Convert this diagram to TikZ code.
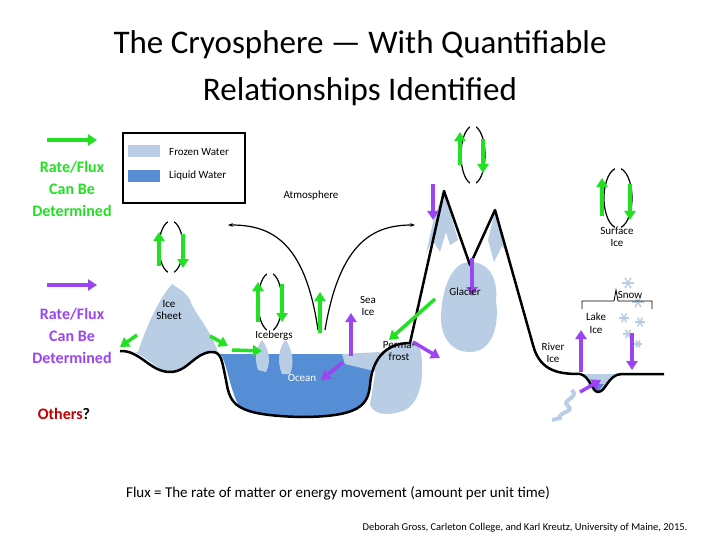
\documentclass[tikz,border=0pt]{standalone}
\usepackage{fontspec}
\setmainfont{Carlito}
\usetikzlibrary{arrows.meta}
\definecolor{frozen}{HTML}{B9CDE5}
\definecolor{liquid}{HTML}{558ED5}
\definecolor{gr}{HTML}{22E022}
\definecolor{pu}{HTML}{9B45F0}
\definecolor{rd}{HTML}{C00000}
\tikzset{
 ga/.style={draw=gr,line width=3.5pt,-{Triangle[length=9pt,width=11pt]}},
 pa/.style={draw=pu,line width=3.5pt,-{Triangle[length=9pt,width=11pt]}},
 lbl/.style={font=\fontsize{11}{12.5}\selectfont,align=center,inner sep=0pt},
 loop/.style={draw=black,line width=1.2pt},
 ground/.style={draw=black,line width=2.5pt,line join=round},
}
\begin{document}
\begin{tikzpicture}[x=1pt,y=-1pt]
\useasboundingbox (0,0) rectangle (720,540);
\node (t1) at (360,45) {\fontsize{33}{34}\selectfont The Cryosphere — With Quantifiable};
\node (t2) at (360,92) {\fontsize{33}{34}\selectfont Relationships Identified};
% left legend
\coordinate (g1) at (47,140); \coordinate (g2) at (97,140);
\draw[ga] (g1) -- (g2);
\node[align=center,text=gr,font=\fontsize{16}{22}\selectfont\bfseries] (gt) at (72,189) {Rate/Flux\\Can Be\\Determined};
\coordinate (p1) at (47,285); \coordinate (p2) at (97,285);
\draw[pa] (p1) -- (p2);
\node[align=center,text=pu,font=\fontsize{16}{22}\selectfont\bfseries] (pt) at (72,336) {Rate/Flux\\Can Be\\Determined};
\node[font=\fontsize{16}{18}\selectfont\bfseries] (oth) at (64,414) {\textcolor{rd}{Others}?};
% legend box
\draw[line width=1.2pt] (123,133) rectangle (245,203);
\fill[frozen] (128,145) rectangle (160,157);
\fill[liquid] (128,170) rectangle (160,182);
\node[lbl,anchor=west] (lf) at (169,152) {Frozen Water};
\node[lbl,anchor=west] (ll) at (169,176) {Liquid Water};
% ocean
\fill[liquid] (220,354) -- (378,354) .. controls (372,370) and (372,380) .. (368,398) .. controls (360,412) and (330,417) .. (300,417) .. controls (260,417) and (240,412) .. (236,400) .. controls (228,380) and (226,360) .. (220,354) -- cycle;
% frozen shapes
\fill[frozen] (138,352) .. controls (145,330) and (158,300) .. (172,284) .. controls (180,290) and (188,292) .. (192,305) .. controls (200,320) and (210,330) .. (218,352) -- cycle;
\fill[frozen] (135,352) .. controls (150,360) and (160,372) .. (170,372) .. controls (180,372) and (195,355) .. (210,352) -- cycle;
\fill[frozen] (258,370) .. controls (253,355) and (258,345) .. (262,340) .. controls (268,348) and (272,360) .. (266,372) -- cycle;
\fill[frozen] (282,374) .. controls (276,360) and (280,345) .. (286,340) .. controls (292,350) and (295,362) .. (290,374) -- cycle;
\fill[frozen] (342,354) -- (380,352) -- (378,372) -- (345,364) -- cycle;
\fill[frozen] (378,355) .. controls (390,345) and (410,340) .. (418,342) .. controls (425,360) and (425,400) .. (405,410) .. controls (390,416) and (375,416) .. (370,405) -- cycle;
\fill[frozen] (444,192) -- (458,240) -- (450,245) -- (446,232) -- (440,252) -- (432,240) -- (426,254) -- (434,218) -- cycle;
\fill[frozen] (495,210) -- (510,258) -- (502,246) -- (494,262) -- (488,240) -- cycle;
\fill[frozen] (470,262) .. controls (490,262) and (498,280) .. (496,300) .. controls (500,330) and (490,352) .. (470,352) .. controls (450,352) and (440,335) .. (441,315) .. controls (442,292) and (450,262) .. (470,262) -- cycle;
\fill[frozen] (582,374) -- (618,374) -- (600,390) -- (592,384) -- cycle;
\fill[liquid!80!pu] (588,384) -- (604,384) -- (598,392) -- cycle;
\draw[frozen,line width=4pt] (572,390) .. controls (580,398) and (560,400) .. (568,406) .. controls (575,412) and (558,412) .. (560,418) -- (552,420);
% snowflakes
\foreach \p/\s in {{(628,283)}/6,{(638,302)}/6,{(624,318)}/5,{(640,322)}/5,{(628,334)}/5,{(638,344)}/4}{
 \foreach \a in {0,60,120}{\draw[frozen,line width=1.5pt] \p ++(\a:\s) -- ++(\a+180:2*\s);}}
% ground lines
\draw[ground] (120,351) .. controls (140,350) and (150,372) .. (170,372) .. controls (188,372) and (195,352) .. (212,352) .. controls (222,352) and (222,362) .. (226,380) .. controls (230,405) and (235,415) .. (300,417) .. controls (360,417) and (368,405) .. (370,385) .. controls (372,360) and (385,343) .. (410,343) -- (444,191) -- (470,265) -- (495,210) -- (533,345) .. controls (540,372) and (560,374) .. (580,374) .. controls (590,376) and (592,392) .. (598,392) .. controls (606,392) and (608,374) .. (622,374) -- (664,374);
% atmosphere arcs
\coordinate (al) at (228,225); \coordinate (ar) at (415,225);
\coordinate (ab1) at (318,330); \coordinate (ab2) at (325,330);
\draw[line width=1.2pt,-{Stealth[length=5pt]}] (ab1) .. controls (305,240) and (270,225) .. (al);
\draw[line width=1.2pt,-{Stealth[length=5pt]}] (ab2) .. controls (340,240) and (375,225) .. (ar);
\node[lbl] (atm) at (311,196) {Atmosphere};
% cycle loops
\foreach \cx/\cy/\rx/\ry in {171/247/12/26, 270/302/12/29, 473/155/12/29, 618/198/14/30}{
 \draw[loop] (\cx,\cy) ellipse[x radius=\rx,y radius=\ry];
 \fill[white] (\cx-3,\cy-\ry-2) rectangle (\cx+3,\cy-\ry+3);
 \fill[white] (\cx-3,\cy+\ry-3) rectangle (\cx+3,\cy+\ry+2);
}
\coordinate (a1) at (159,266); \coordinate (a2) at (159,232);
\draw[ga] (a1) -- (a2);
\coordinate (a3) at (183,234); \coordinate (a4) at (183,268);
\draw[ga] (a3) -- (a4);
\coordinate (b1) at (258,322); \coordinate (b2) at (258,282);
\draw[ga] (b1) -- (b2);
\coordinate (b3) at (282,284); \coordinate (b4) at (282,322);
\draw[ga] (b3) -- (b4);
\coordinate (c1) at (460,165); \coordinate (c2) at (460,132);
\draw[ga] (c1) -- (c2);
\coordinate (c3) at (483,139); \coordinate (c4) at (483,173);
\draw[ga] (c3) -- (c4);
\coordinate (d1) at (602,216); \coordinate (d2) at (602,178);
\draw[ga] (d1) -- (d2);
\coordinate (d3) at (630,184); \coordinate (d4) at (630,220);
\draw[ga] (d3) -- (d4);
% other green arrows
\coordinate (e1) at (320,333); \coordinate (e2) at (320,292);
\draw[ga] (e1) -- (e2);
\coordinate (f1) at (137,335); \coordinate (f2) at (120,347);
\draw[ga] (f1) -- (f2);
\coordinate (h1) at (210,336); \coordinate (h2) at (228,346);
\draw[ga] (h1) -- (h2);
\coordinate (h3) at (232,350); \coordinate (h4) at (262,351);
\draw[ga] (h3) -- (h4);
\coordinate (s1) at (435,299); \coordinate (s2) at (389,340);
\draw[ga] (s1) -- (s2);
% purple arrows
\coordinate (q1) at (351,356); \coordinate (q2) at (351,313);
\draw[pa] (q1) -- (q2);
\coordinate (q3) at (343,362); \coordinate (q4) at (321,380);
\draw[pa] (q3) -- (q4);
\coordinate (q5) at (413,342); \coordinate (q6) at (440,358);
\draw[pa] (q5) -- (q6);
\coordinate (q7) at (433,184); \coordinate (q8) at (433,220);
\draw[pa] (q7) -- (q8);
\coordinate (q9) at (472,258); \coordinate (q10) at (472,296);
\draw[pa] (q9) -- (q10);
\coordinate (r1) at (581,372); \coordinate (r2) at (581,330);
\draw[pa] (r1) -- (r2);
\coordinate (r3) at (580,392); \coordinate (r4) at (601,380);
\draw[pa] (r3) -- (r4);
\coordinate (r5) at (632,333); \coordinate (r6) at (632,370);
\draw[pa] (r5) -- (r6);
% bracket
\draw[line width=0.8pt] (582,309) -- (582,301) -- (614,301) -- (616,290) -- (618,301) -- (652,301) -- (652,309);
% labels
\node[lbl] (is) at (169,310) {Ice\\Sheet};
\node[lbl] (ib) at (274,336) {Icebergs};
\node[lbl,text=white] (oc) at (302,378) {Ocean};
\node[lbl] (si) at (368,306) {Sea\\Ice};
\node[lbl] (pf) at (399,351) {Perma-\\frost};
\node[lbl] (gl) at (465,292) {Glacier};
\node[lbl] (sf) at (617,237) {Surface\\Ice};
\node[lbl] (sn) at (630,295) {Snow};
\node[lbl] (lk) at (596,323) {Lake\\Ice};
\node[lbl] (rv) at (553,353) {River\\Ice};
\node (fx) at (338,493) {\fontsize{15}{16}\selectfont Flux = The rate of matter or energy movement (amount per unit time)};
\node (cr) at (525,528) {\fontsize{10.5}{12}\selectfont Deborah Gross, Carleton College, and Karl Kreutz, University of Maine, 2015.};
\end{tikzpicture}
\end{document}
